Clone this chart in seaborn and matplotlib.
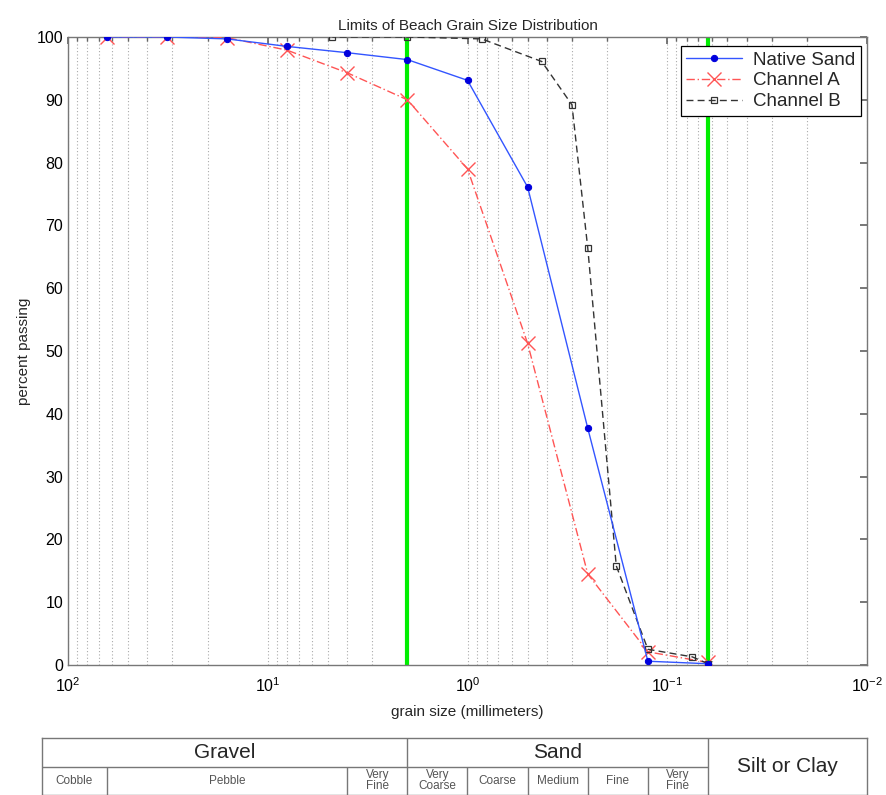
import numpy as np
import pandas as pd
import matplotlib
matplotlib.use("Agg")
import matplotlib.pyplot as plt
import seaborn as sns

# --- data ---
sizes = [64, 32, 16, 8, 4, 2, 1, 0.5, 0.25, 0.125, 0.0625]
native_sand = [100, 100, 99.7, 98.5, 97.5, 96.4, 93.1, 76.1, 37.7, 0.6, 0.2]
channel_a = [100, 100, 99.9, 97.9, 94.3, 90.0, 79.0, 51.2, 14.5, 2.1, 0.4]

sizes_b = [4.75, 2.0, 0.85, 0.425, 0.30, 0.25, 0.18, 0.125, 0.075, 0.0625]
channel_b = [100, 100, 99.7, 96.1, 89.2, 66.4, 15.8, 2.5, 1.3, 0.2]

limits = [2.0, 0.0625]  # gravel/sand and sand/silt limits

# classification table
main_bounds = [2.0, 0.0625]
sub_bounds = [64, 4, 1, 0.5, 0.25, 0.125]
table_left, table_right = 10 ** 2.13, 0.01
top_labels = ["Gravel", "Sand"]
top_spans = [(table_left, 2.0), (2.0, 0.0625)]
sub_labels = ["Cobble", "Pebble", "Very\nFine", "Very\nCoarse", "Coarse", "Medium", "Fine", "Very\nFine"]
sub_spans = [(table_left, 64), (64, 4), (4, 2), (2, 1), (1, 0.5), (0.5, 0.25), (0.25, 0.125), (0.125, 0.0625)]

sns.set_theme(style="white")
plt.rcParams["font.family"] = ["Liberation Sans", "DejaVu Sans"]
plt.rcParams["mathtext.fontset"] = "custom"
plt.rcParams["mathtext.rm"] = "Liberation Sans"
plt.rcParams["axes.unicode_minus"] = False

W, H = 886, 795
fig = plt.figure(figsize=(W / 100, H / 100), dpi=100)
ax = fig.add_axes([68 / W, 1 - 665 / H, (867 - 68) / W, (665 - 37) / H])

df_n = pd.DataFrame({"size": sizes, "pct": native_sand})
df_a = pd.DataFrame({"size": sizes, "pct": channel_a})
df_b = pd.DataFrame({"size": sizes_b, "pct": channel_b})

for x in limits:
    ax.axvline(x, color="#00ee00", lw=3, zorder=1.5)

sns.lineplot(data=df_n, x="size", y="pct", ax=ax, color="#3355ff", lw=1.0,
             marker="o", markersize=4.5, markerfacecolor="#0000dd", markeredgecolor="#0000dd",
             label="Native Sand", zorder=4, errorbar=None)
sns.lineplot(data=df_a, x="size", y="pct", ax=ax, color="#ff5555", lw=1.0,
             linestyle=(0, (6, 2, 1, 2)), marker="x", markersize=10, markeredgewidth=1.0,
             markeredgecolor="#ff5555", label="Channel A", zorder=3, errorbar=None)
sns.lineplot(data=df_b, x="size", y="pct", ax=ax, color="#333333", lw=1.0,
             linestyle=(0, (5, 3)), marker="s", markersize=5, markerfacecolor="none",
             markeredgecolor="#333333", markeredgewidth=0.9,
             label="Channel B", zorder=3, errorbar=None)

ax.set_xscale("log")
ax.set_xlim(100, 0.01)
ax.set_ylim(0, 100)
ax.set_yticks(np.arange(0, 101, 10))
ax.grid(True, which="both", axis="x", linestyle=(0, (1, 2)), color="#aaaaaa", lw=0.8)
ax.grid(False, axis="y")
ax.tick_params(which="both", direction="in", top=True, right=True, colors="#666666",
               labelcolor="black", labelsize=11.5)
ax.tick_params(axis="x", which="both", pad=8)
ax.tick_params(which="major", length=5)
ax.tick_params(which="minor", length=3)
for s in ax.spines.values():
    s.set_color("#777777")
    s.set_linewidth(1.0)

ax.set_title("Limits of Beach Grain Size Distribution", fontsize=11, pad=5)
ax.set_xlabel("grain size (millimeters)", fontsize=11, labelpad=7)
ax.set_ylabel("percent passing", fontsize=11, labelpad=4)

leg = ax.legend(loc="upper right", bbox_to_anchor=(0.992, 0.986), borderaxespad=0,
                fontsize=13.5, frameon=True, fancybox=False, handlelength=3.0,
                borderpad=0.3, labelspacing=0.2, handletextpad=0.55, framealpha=1)
leg.get_frame().set_edgecolor("black")
leg.get_frame().set_linewidth(0.9)

# --- classification table under the plot, same log scale ---
tb = fig.add_axes([42 / W, 1 - 795 / H, (867 - 42) / W, (795 - 738) / H])
tb.set_xscale("log")
tb.set_xlim(table_left, table_right)
tb.set_ylim(0, 2)
tb.set_xticks([])
tb.set_yticks([])
tb.minorticks_off()
for s in tb.spines.values():
    s.set_color("#777777")
    s.set_linewidth(1.0)
tb.hlines(1, table_left, 0.0625, color="#777777", lw=1.0)
tb.vlines(main_bounds, 0, 2, color="#777777", lw=1.0)
tb.vlines(sub_bounds, 0, 1, color="#777777", lw=1.0)

for lab, (a, b) in zip(top_labels, top_spans):
    tb.text(np.sqrt(a * b), 1.5, lab, ha="center", va="center", fontsize=15)
tb.text(np.sqrt(0.0625 * table_right), 1.0, "Silt or Clay", ha="center", va="center", fontsize=15)
for lab, (a, b) in zip(sub_labels, sub_spans):
    tb.text(np.sqrt(a * b), 0.5, lab, ha="center", va="center", fontsize=8.5,
            color="#555555", linespacing=0.9)

fig.savefig("out.png", dpi=100)
